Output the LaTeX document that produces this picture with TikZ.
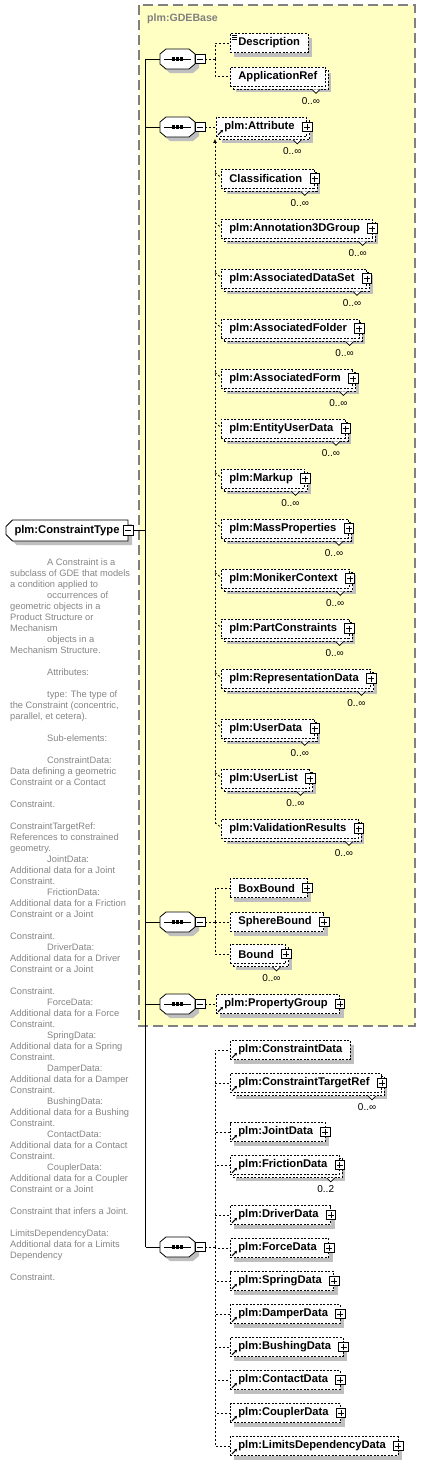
\documentclass[tikz,border=0pt]{standalone}
\usepackage{fontspec}
\setmainfont{Liberation Sans}
\usetikzlibrary{arrows.meta,positioning,shapes.misc,shadows}
\definecolor{basefill}{HTML}{FFFFC4}
\definecolor{docgray}{HTML}{858585}
\newcommand\ind{\hspace*{37pt}}
\tikzset{
  tree/.style={draw=black,line width=1pt},
  branch/.style={draw=black,line width=.8pt,dash pattern=on 2pt off 2pt},
  el/.style={draw=black,line width=.8pt,dash pattern=on 2pt off 1.5pt,fill=white,anchor=west,
    minimum height=19pt,inner ysep=0pt,inner xsep=8pt,font=\fontsize{11.2}{13}\selectfont\bfseries},
  one/.style={drop shadow={fill=black!25,opacity=1,shadow xshift=4pt,shadow yshift=-4pt}},
  many/.style={drop shadow={fill=black!25,opacity=1,shadow xshift=6pt,shadow yshift=-6pt},
    general shadow={draw=black,line width=.8pt,dash pattern=on 2pt off 1.5pt,fill=white,shadow xshift=3pt,shadow yshift=-3pt}},
  pl/.style={execute at end node={\hspace{4pt}}},
  pm/.style={draw=black,solid,line width=.7pt,fill=white,minimum size=9.5pt,inner sep=0pt},
  plusbox/.style={pm,path picture={
    \draw ([xshift=-3pt]path picture bounding box.center) -- ([xshift=3pt]path picture bounding box.center);
    \draw ([yshift=-3pt]path picture bounding box.center) -- ([yshift=3pt]path picture bounding box.center);}},
  minusbox/.style={pm,path picture={
    \draw ([xshift=-3pt]path picture bounding box.center) -- ([xshift=3pt]path picture bounding box.center);}},
  seq/.style={minimum width=35pt,minimum height=20pt,inner sep=0pt},
  seqline/.style={draw=black,line width=.8pt,fill=white},
  root/.style={chamfered rectangle,chamfered rectangle corners={north west,south west},chamfered rectangle xsep=3pt,
    draw=black,line width=.8pt,fill=white,minimum width=122pt,minimum height=21pt,inner sep=0pt,
    font=\fontsize{11.2}{13}\selectfont\bfseries,
    drop shadow={fill=black!25,opacity=1,shadow xshift=4pt,shadow yshift=-4pt}},
  occ/.style={font=\fontsize{10}{12}\selectfont,inner sep=0pt},
  notch/.style={draw=black,line width=.7pt,fill=white},
  refarrow/.style={line width=1pt,-{Stealth[length=2.6pt,width=3pt]}},
  doc/.style={text=docgray,align=left,inner sep=0pt,font=\fontsize{9.3}{11}\selectfont},
  basebox/.style={draw=black!50,fill=basefill,line width=1.2pt,dash pattern=on 10pt off 5pt},
  basetitle/.style={text=black!50,font=\fontsize{10.6}{12}\selectfont\bfseries,inner sep=0pt,anchor=base west}
}

\begin{document}
\begin{tikzpicture}[x=1pt,y=-1pt]
  \useasboundingbox (0,0) rectangle (421,1462);
  % inherited base type
  \draw[basebox] (139,5) rectangle (415,1026);
  \node[basetitle] (basename) at (147,21.8) {plm:GDEBase};

  % complex type and its annotation
  \node[root] (ctype) at (67,530.5) {plm:ConstraintType\hspace{6pt}};
  \node[minusbox] (ctype-m) at (ctype.east) {};
  \node[doc,anchor=north west] (ctype-doc) at (10,559) {%
\ind A Constraint is a\\
subclass of GDE that models\\
a condition applied to\\
\ind occurrences of\\
geometric objects in a\\
Product Structure or\\
Mechanism\\
\ind objects in a\\
Mechanism Structure.\\
~\\
\ind Attributes:\\
~\\
\ind type: The type of\\
the Constraint (concentric,\\
parallel, et cetera).\\
~\\
\ind Sub-elements:\\
~\\
\ind ConstraintData:\\
Data defining a geometric\\
Constraint or a Contact\\
~\\
Constraint.\\
~\\
ConstraintTargetRef:\\
References to constrained\\
geometry.\\
\ind JointData:\\
Additional data for a Joint\\
Constraint.\\
\ind FrictionData:\\
Additional data for a Friction\\
Constraint or a Joint\\
~\\
Constraint.\\
\ind DriverData:\\
Additional data for a Driver\\
Constraint or a Joint\\
~\\
Constraint.\\
\ind ForceData:\\
Additional data for a Force\\
Constraint.\\
\ind SpringData:\\
Additional data for a Spring\\
Constraint.\\
\ind DamperData:\\
Additional data for a Damper\\
Constraint.\\
\ind BushingData:\\
Additional data for a Bushing\\
Constraint.\\
\ind ContactData:\\
Additional data for a Contact\\
Constraint.\\
\ind CouplerData:\\
Additional data for a Coupler\\
Constraint or a Joint\\
~\\
Constraint that infers a Joint.\\
~\\
LimitsDependencyData:\\
Additional data for a Limits\\
Dependency\\
~\\
Constraint.};

  % sequences
  \node[seq] (s1) at (177.5,59) {};
  \node[seq] (s2) at (177.5,127) {};
  \node[seq] (s3) at (177.5,922) {};
  \node[seq] (s4) at (177.5,1004) {};
  \node[seq] (s5) at (177.5,1247) {};
  \foreach \s in {s1,s2,s3,s4,s5} {
    \fill[black!25] (\s.center) ++(-7.5,-6) -- ++(23,0) -- ++(6,5) -- ++(0,10) -- ++(-6,5)
      -- ++(-23,0) -- ++(-6,-5) -- ++(0,-10) -- cycle;
    \draw[seqline] (\s.center) ++(-11.5,-10) -- ++(23,0) -- ++(6,5) -- ++(0,10) -- ++(-6,5)
      -- ++(-23,0) -- ++(-6,-5) -- ++(0,-10) -- cycle;
    \draw[line width=.9pt] (\s.center) ++(-13.5,0) -- ++(27,0);
    \foreach \d in {-4.2,0,4.2}
      \fill (\s.center) ++(\d-1.6,-1.6) rectangle ++(3.2,3.2);
    \node[minusbox,anchor=west] (\s-m) at (\s.east) {};
  }

  % first sequence
  \node[el,one] (desc) at (230,43) {Description};
  \node[el,many] (appref) at (230,76.5) {ApplicationRef};

  % attribute and its substitution group
  \node[el,many,pl] (attr) at (216,127) {plm:Attribute};
  \node[el,many,pl] (cls) at (221,178.5) {Classification};
  \node[el,many,pl] (ann) at ([yshift=-50pt]cls.west) {plm:Annotation3DGroup};
  \node[el,many,pl] (ads) at ([yshift=-50pt]ann.west) {plm:AssociatedDataSet};
  \node[el,many,pl] (afo) at ([yshift=-50pt]ads.west) {plm:AssociatedFolder};
  \node[el,many,pl] (afm) at ([yshift=-50pt]afo.west) {plm:AssociatedForm};
  \node[el,many,pl] (eud) at ([yshift=-50pt]afm.west) {plm:EntityUserData};
  \node[el,many,pl] (mkp) at ([yshift=-50pt]eud.west) {plm:Markup};
  \node[el,many,pl] (msp) at ([yshift=-50pt]mkp.west) {plm:MassProperties};
  \node[el,many,pl] (mnk) at ([yshift=-50pt]msp.west) {plm:MonikerContext};
  \node[el,many,pl] (pcs) at ([yshift=-50pt]mnk.west) {plm:PartConstraints};
  \node[el,many,pl] (rep) at ([yshift=-50pt]pcs.west) {plm:RepresentationData};
  \node[el,many,pl] (usd) at ([yshift=-50pt]rep.west) {plm:UserData};
  \node[el,many,pl] (usl) at ([yshift=-50pt]usd.west) {plm:UserList};
  \node[el,many,pl] (vres) at ([yshift=-50pt]usl.west) {plm:ValidationResults};

  % bounds
  \node[el,one,pl] (bbox) at (230,888) {BoxBound};
  \node[el,one,pl] (sbnd) at (230,922) {SphereBound};
  \node[el,many,pl] (bnd) at (230,954) {Bound};
  \node[el,one,pl] (pgrp) at (216,1004) {plm:PropertyGroup};

  % constraint sub-elements
  \node[el,one] (cdat) at (230,1050) {plm:ConstraintData};
  \node[el,many,pl] (ctref) at ([yshift=-33pt]cdat.west) {plm:ConstraintTargetRef};
  \node[el,one,pl] (jdat) at ([yshift=-49pt]ctref.west) {plm:JointData};
  \node[el,many,pl] (fdat) at ([yshift=-33pt]jdat.west) {plm:FrictionData};
  \node[el,one,pl] (ddat) at ([yshift=-50pt]fdat.west) {plm:DriverData};
  \node[el,one,pl] (fcdat) at ([yshift=-33pt]ddat.west) {plm:ForceData};
  \node[el,one,pl] (spdat) at ([yshift=-33pt]fcdat.west) {plm:SpringData};
  \node[el,one,pl] (dmdat) at ([yshift=-33pt]spdat.west) {plm:DamperData};
  \node[el,one,pl] (bsdat) at ([yshift=-33pt]dmdat.west) {plm:BushingData};
  \node[el,one,pl] (ctdat) at ([yshift=-33pt]bsdat.west) {plm:ContactData};
  \node[el,one,pl] (cpdat) at ([yshift=-33pt]ctdat.west) {plm:CouplerData};
  \node[el,one,pl] (lddat) at ([yshift=-33pt]cpdat.west) {plm:LimitsDependencyData};

  % expand boxes, references, occurrences
  \foreach \n in {attr,cls,ann,ads,afo,afm,eud,mkp,msp,mnk,pcs,rep,usd,usl,vres,bbox,sbnd,bnd,pgrp,
                  ctref,jdat,fdat,ddat,fcdat,spdat,dmdat,bsdat,ctdat,cpdat,lddat}
    \node[plusbox] (\n-p) at (\n.east) {};
  \foreach \n in {attr,pgrp,cdat,ctref,jdat,fdat,ddat,fcdat,spdat,dmdat,bsdat,ctdat,cpdat,lddat}
    \draw[refarrow] ([shift={(2pt,2pt)}]\n.south west) -- ++(5pt,5pt);
  \foreach \n in {appref,attr,cls,ann,ads,afo,afm,eud,mkp,msp,mnk,pcs,rep,usd,usl,vres,bnd,ctref}
    \node[occ,below left=10.5pt and 5.5pt of \n.south east] (\n-o) {0..∞};
  \node[occ,below left=10.5pt and 5.5pt of fdat.south east] (fdat-o) {0..2};
  \foreach \n in {appref,attr,cls,ann,ads,afo,afm,eud,mkp,msp,mnk,pcs,rep,usd,usl,vres,bnd,ctref,fdat}
    \draw[notch] (\n-o.north |- \n.south) ++(1,3) -- ++(4,4) -- ++(4,-4);
  \foreach \k in {2,4,6}
    \draw[line width=.6pt] ([shift={(2pt,-\k pt)}]desc.north west) -- ++(5pt,0pt);

  % trunk
  \coordinate (trunk) at ([xshift=12pt]ctype-m.east);
  \draw[tree] (ctype-m.east) -- (trunk);
  \draw[tree] (trunk |- s1) -- (trunk |- s5);
  \foreach \s in {s1,s2,s3,s4,s5}
    \draw[tree] (trunk |- \s) -- (\s.west);

  % branches
  \draw[branch] (s1-m.east) -- ++(10,0) coordinate (j1);
  \draw[branch] (j1) |- (desc.west);
  \draw[branch] (j1) |- (appref.west);
  \draw[branch] (s2-m.east) -- (attr.west);
  \coordinate (sub) at ([xshift=-1pt,yshift=-2pt]attr.south west);
  \path (sub |- vres.north) ++(0,5) coordinate (subend);
  \draw[branch,-{Latex[length=4pt,width=4pt]}] (subend) -- (sub);
  \foreach \m in {cls,ann,ads,afo,afm,eud,mkp,msp,mnk,pcs,rep,usd,usl,vres}
    \draw[branch] (sub |- \m.north) ++(0,4) -- ++(5,4);
  \draw[branch] (s3-m.east) -- ++(10,0) coordinate (j3);
  \draw[branch] (j3) |- (bbox.west);
  \draw[branch] (j3) -- (sbnd.west);
  \draw[branch] (j3) |- (bnd.west);
  \draw[branch] (s4-m.east) -- (pgrp.west);
  \draw[branch] (s5-m.east) -- ++(10,0) coordinate (j5);
  \foreach \n in {cdat,ctref,jdat,fdat,ddat,fcdat,spdat,dmdat,bsdat,ctdat,cpdat,lddat}
    \draw[branch] (j5) |- (\n.west);
\end{tikzpicture}
\end{document}
